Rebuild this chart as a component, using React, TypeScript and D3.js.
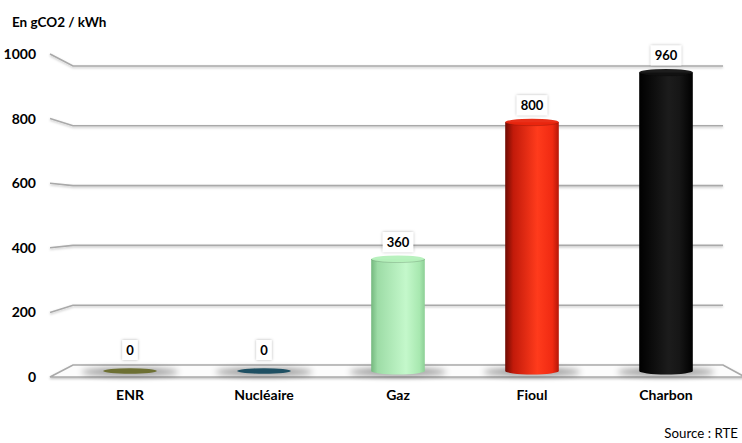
import React from "react";
import * as d3 from "d3";

const categories = ["ENR", "Nucléaire", "Gaz", "Fioul", "Charbon"];
const values = [0, 0, 360, 800, 960];
const tickValues = [0, 200, 400, 600, 800, 1000];
const unitLabel = "En gCO2 / kWh";
const sourceLabel = "Source : RTE";

const W = 742;
const H = 443;
const FONT = "Lato, 'Open Sans', sans-serif";

// perspective frame: front edge, back wall, and mid-depth (where the bars stand)
const frontX = 50;
const backLeft = 73;
const backRight = 723;
const frontRight = 745;
const yFront = d3.scaleLinear().domain([0, 1000]).range([377, 54]);
const yBack = d3.scaleLinear().domain([0, 1000]).range([365, 66]);
const yMid = d3.scaleLinear().domain([0, 1000]).range([371, 60]);
const x = d3
  .scaleBand<string>()
  .domain(categories)
  .range([63, 733])
  .paddingInner(0.6)
  .paddingOuter(0.3);

const barStyles: Record<string, { id: string; stops: [number, string][]; flat: string }> = {
  ENR: { id: "gEnr", stops: [[0, "#4f5220"], [0.5, "#7c7f3a"], [1, "#4f5220"]], flat: "#6d7033" },
  "Nucléaire": { id: "gNuc", stops: [[0, "#123847"], [0.5, "#2b6478"], [1, "#123847"]], flat: "#1f5063" },
  Gaz: { id: "gGaz", stops: [[0, "#74b87e"], [0.12, "#9ddca6"], [0.65, "#c4f8cb"], [0.9, "#a8e8b0"], [1, "#8ccf95"]], flat: "#b4f0bb" },
  Fioul: { id: "gFioul", stops: [[0, "#6e0b03"], [0.15, "#c21a0a"], [0.6, "#ff3b1c"], [0.88, "#f02a12"], [1, "#b51708"]], flat: "#e8250e" },
  Charbon: { id: "gChar", stops: [[0, "#000"], [0.55, "#1c1c1c"], [0.75, "#161616"], [1, "#000"]], flat: "#111" },
};

export default function App() {
  const bw = x.bandwidth();
  const ry = 3.5;
  return (
    <svg width={W} height={H} style={{ display: "block", position: "absolute", left: 0, top: 0, background: "#fff" }}>
      <defs>
        {categories.map((c) => {
          const s = barStyles[c];
          return (
            <linearGradient key={s.id} id={s.id} x1="0" x2="1" y1="0" y2="0">
              {s.stops.map(([o, col], i) => (
                <stop key={i} offset={o} stopColor={col} />
              ))}
            </linearGradient>
          );
        })}
        <filter id="blur3" x="-50%" y="-200%" width="200%" height="500%">
          <feGaussianBlur stdDeviation="3" />
        </filter>
        <filter id="boxShadow" x="-30%" y="-30%" width="160%" height="160%">
          <feDropShadow dx="0" dy="0" stdDeviation="1.5" floodColor="#000" floodOpacity="0.3" />
        </filter>
        <filter id="lineShadow" x="-5%" y="-100%" width="110%" height="400%">
          <feDropShadow dx="0" dy="1.2" stdDeviation="0.8" floodColor="#000" floodOpacity="0.25" />
        </filter>
      </defs>

      {/* unit label */}
      <text x={12} y={27} fontFamily={FONT} fontWeight="bold" fontSize={13.5} fill="#000">
        {unitLabel}
      </text>

      {/* floor */}
      <g filter="url(#lineShadow)">
        <path
          d={`M${frontX},${yFront(0)} L${backLeft},${yBack(0)} L${backRight},${yBack(0)} L${frontRight},${yFront(0)} Z`}
          fill="#fcfcfc"
          stroke="#a9a9a9"
          strokeWidth={1.6}
        />
      </g>

      {/* gridlines: side wall slant + back wall */}
      <g filter="url(#lineShadow)" fill="none" stroke="#a9a9a9" strokeWidth={1.6}>
        {tickValues
          .filter((t) => t > 0)
          .map((t) => (
            <path key={t} d={`M${frontX},${yFront(t)} L${backLeft},${yBack(t)} L${backRight},${yBack(t)}`} />
          ))}
      </g>

      {/* tick labels */}
      {tickValues.map((t) => (
        <text
          key={t}
          x={36}
          y={yFront(t)}
          dy="0.35em"
          textAnchor="end"
          fontFamily={FONT}
          fontWeight="bold"
          fontSize={14}
          fill="#000"
        >
          {t}
        </text>
      ))}

      {/* bars */}
      {categories.map((c, i) => {
        const v = values[i];
        const s = barStyles[c];
        const x0 = x(c)!;
        const cx = x0 + bw / 2;
        const yb = yMid(0);
        const yt = yMid(v);
        return (
          <g key={c}>
            <ellipse cx={cx} cy={yb + 1} rx={bw / 2 + 22} ry={4} fill="#000" opacity={0.4} filter="url(#blur3)" />
            {v > 0 ? (
              <g>
                <path
                  d={`M${x0},${yt} L${x0},${yb} A${bw / 2},${ry} 0 0 0 ${x0 + bw},${yb} L${x0 + bw},${yt} Z`}
                  fill={`url(#${s.id})`}
                />
                <ellipse cx={cx} cy={yt} rx={bw / 2} ry={ry} fill={s.flat} opacity={0.95} />
                <path
                  d={`M${x0},${yt} A${bw / 2},${ry} 0 0 0 ${x0 + bw},${yt}`}
                  fill="none"
                  stroke="#000"
                  strokeOpacity={0.15}
                  strokeWidth={1}
                />
              </g>
            ) : (
              <ellipse cx={cx} cy={yb} rx={bw / 2} ry={ry * 0.8} fill={s.flat} />
            )}
          </g>
        );
      })}

      {/* value labels */}
      {categories.map((c, i) => {
        const v = values[i];
        const label = String(v);
        const cx = x(c)! + bw / 2;
        const boxW = label.length * 7.5 + 8;
        const boxH = 20;
        const cy = yMid(v) - (v > 0 ? 17 : 21);
        return (
          <g key={c}>
            <rect
              x={cx - boxW / 2}
              y={cy - boxH / 2}
              width={boxW}
              height={boxH}
              fill="#fff"
              filter="url(#boxShadow)"
            />
            <text
              x={cx}
              y={cy}
              dy="0.36em"
              textAnchor="middle"
              fontFamily={FONT}
              fontWeight="bold"
              fontSize={13}
              fill="#000"
            >
              {label}
            </text>
          </g>
        );
      })}

      {/* category labels */}
      {categories.map((c) => (
        <text
          key={c}
          x={x(c)! + bw / 2}
          y={395}
          dy="0.35em"
          textAnchor="middle"
          fontFamily={FONT}
          fontWeight="bold"
          fontSize={14}
          fill="#000"
        >
          {c}
        </text>
      ))}

      {/* source */}
      <text x={738} y={438} textAnchor="end" fontFamily={FONT} fontSize={13.3} fill="#000">
        {sourceLabel}
      </text>
    </svg>
  );
}
